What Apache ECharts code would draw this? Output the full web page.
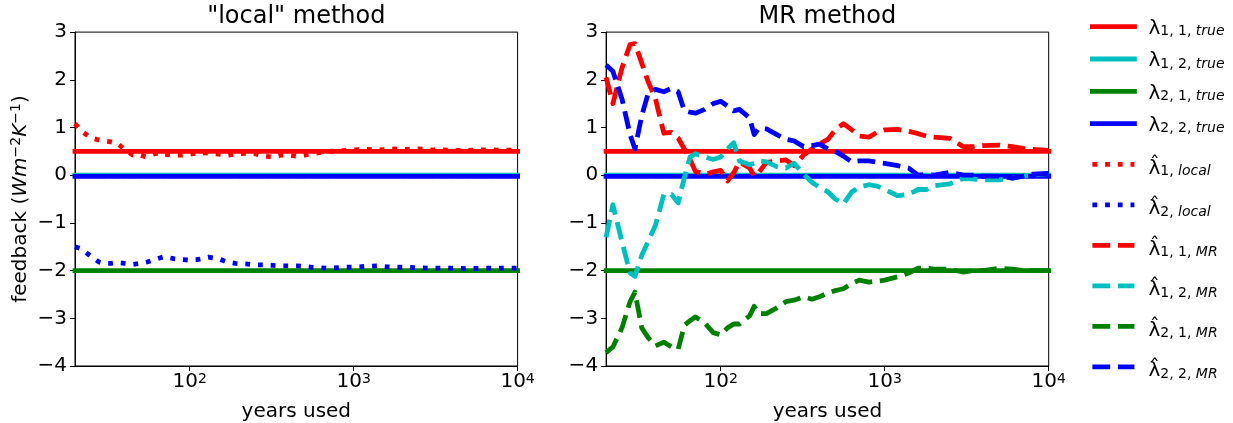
<!DOCTYPE html>
<html>
<head>
<meta charset="utf-8">
<script src="https://cdn.jsdelivr.net/npm/echarts@6/dist/echarts.min.js"></script>
<style>
  html, body { margin: 0; padding: 0; background: #fff; }
  #chart { width: 1233px; height: 423px; }
</style>
</head>
<body>
<div id="chart"></div>
<script>
// Sample sizes (years of data used), shared by every estimate curve
const years = [20, 22, 25, 28, 30, 33, 36, 40, 45, 50, 55, 60, 65, 70, 80, 90, 100, 110, 120, 130,
  150, 160, 170, 190, 220, 250, 280, 320, 360, 400, 450, 500, 560, 630, 700, 800, 900, 1000,
  1200, 1400, 1600, 1800, 2000, 2500, 3000, 3500, 4000, 5000, 6000, 7000, 8000, 10000];

// True feedback values (horizontal reference lines)
const trueNames = ['l11true', 'l12true', 'l21true', 'l22true'];
const trueLevels = [0.5, 0, -2, -0.025];

// "local" method estimates
const local1 = [1.08, 0.92, 0.78, 0.74, 0.72, 0.70, 0.67, 0.55, 0.42, 0.42, 0.38, 0.44, 0.47, 0.44, 0.42, 0.42, 0.44, 0.46, 0.47, 0.46,
  0.44, 0.43, 0.42, 0.44, 0.46, 0.45, 0.40, 0.38, 0.42, 0.42, 0.40, 0.42, 0.45, 0.48, 0.50, 0.51, 0.52, 0.53,
  0.54, 0.53, 0.54, 0.55, 0.54, 0.55, 0.53, 0.53, 0.52, 0.52, 0.53, 0.53, 0.52, 0.53];
const local2 = [-1.50, -1.55, -1.70, -1.82, -1.85, -1.85, -1.83, -1.85, -1.87, -1.85, -1.82, -1.78, -1.74, -1.71, -1.75, -1.77, -1.78, -1.77, -1.75, -1.72,
  -1.75, -1.79, -1.82, -1.85, -1.86, -1.88, -1.88, -1.89, -1.90, -1.90, -1.90, -1.91, -1.93, -1.94, -1.95, -1.94, -1.93, -1.93,
  -1.91, -1.90, -1.92, -1.93, -1.93, -1.94, -1.95, -1.95, -1.95, -1.96, -1.95, -1.95, -1.95, -1.95];

// MR method estimates
const mr11 = [2.05, 1.50, 2.25, 2.74, 2.76, 2.35, 1.97, 1.60, 0.88, 0.90, 0.78, 0.55, 0.33, 0.08, 0.02, 0.07, 0.10, -0.12, 0.05, 0.28,
  0.15, -0.02, 0.05, 0.27, 0.30, 0.32, 0.20, 0.42, 0.55, 0.65, 0.75, 0.95, 1.08, 0.95, 0.82, 0.80, 0.90, 0.95,
  0.96, 0.92, 0.87, 0.82, 0.80, 0.77, 0.60, 0.60, 0.62, 0.63, 0.60, 0.56, 0.54, 0.52];
const mr12 = [-1.30, -0.62, -1.40, -2.05, -2.12, -1.68, -1.40, -1.05, -0.40, -0.40, -0.58, -0.05, 0.38, 0.45, 0.38, 0.33, 0.38, 0.55, 0.68, 0.30,
  0.22, 0.25, 0.30, 0.28, 0.18, 0.15, 0.25, 0.02, -0.15, -0.25, -0.35, -0.50, -0.60, -0.35, -0.25, -0.20, -0.23, -0.30,
  -0.43, -0.40, -0.30, -0.30, -0.22, -0.18, -0.07, -0.08, -0.10, -0.10, -0.06, -0.02, 0.00, 0.04];
const mr21 = [-3.72, -3.60, -3.20, -2.65, -2.45, -3.20, -3.40, -3.58, -3.50, -3.60, -3.65, -3.15, -3.05, -2.97, -3.10, -3.30, -3.35, -3.20, -3.12, -3.12,
  -2.95, -2.75, -2.90, -2.90, -2.78, -2.65, -2.62, -2.55, -2.60, -2.55, -2.47, -2.42, -2.38, -2.27, -2.20, -2.24, -2.22, -2.20,
  -2.13, -2.05, -1.95, -1.95, -1.97, -1.97, -2.03, -2.00, -2.00, -1.95, -1.97, -2.00, -2.00, -2.00];
const mr22 = [2.31, 2.18, 1.60, 0.85, 0.55, 1.25, 1.70, 1.80, 1.75, 1.82, 1.75, 1.35, 1.32, 1.30, 1.38, 1.50, 1.55, 1.45, 1.35, 1.38,
  1.20, 0.85, 0.98, 0.97, 0.85, 0.75, 0.72, 0.60, 0.62, 0.65, 0.55, 0.50, 0.40, 0.28, 0.30, 0.30, 0.27, 0.25,
  0.20, 0.15, 0.00, 0.02, 0.00, 0.06, 0.00, 0.00, -0.02, -0.02, -0.06, -0.02, 0.02, 0.04];

// Axis ticks
const majorTicks = [100, 1000, 10000];
const minorTicks = [30, 40, 50, 60, 70, 80, 90, 200, 300, 400, 500, 600, 700, 800, 900,
  2000, 3000, 4000, 5000, 6000, 7000, 8000, 9000];
const yTicks = [-4, -3, -2, -1, 0, 1, 2, 3];

const FONT = '"DejaVu Sans", sans-serif';
const RED = '#ff0000', CYAN = '#00bfbf', GREEN = '#008000', BLUE = '#0000ff';
const LW = 4.8;
const DASH = [17.8, 7.7];
const DOT = [4.8, 7.9];
const X_MIN = years[0], X_MAX = years[years.length - 1];

const legendText = {
  l11true: '{sp| }{l|λ}{s|1, 1, }{i|true}',
  l12true: '{sp| }{l|λ}{s|1, 2, }{i|true}',
  l21true: '{sp| }{l|λ}{s|2, 1, }{i|true}',
  l22true: '{sp| }{l|λ}{s|2, 2, }{i|true}',
  l1local: '{sp| }{l|λ\u0302}{s|1, }{i|local}',
  l2local: '{sp| }{l|λ\u0302}{s|2, }{i|local}',
  l11mr: '{sp| }{l|λ\u0302}{s|1, 1, }{i|MR}',
  l12mr: '{sp| }{l|λ\u0302}{s|1, 2, }{i|MR}',
  l21mr: '{sp| }{l|λ\u0302}{s|2, 1, }{i|MR}',
  l22mr: '{sp| }{l|λ\u0302}{s|2, 2, }{i|MR}'
};
const trueColors = [RED, CYAN, GREEN, BLUE];

function pairs(vals) { return years.map((y, i) => [y, vals[i]]); }

function lineSeries(name, data, color, dash, gi) {
  return {
    type: 'line', name, data,
    xAxisIndex: gi * 2, yAxisIndex: gi,
    symbol: 'none', showSymbol: false, smooth: false, clip: true,
    silent: true, animation: false,
    lineStyle: { color, width: LW, type: dash || 'solid', cap: dash ? 'butt' : 'square', join: 'round' },
    itemStyle: { color },
    emphasis: { disabled: true }
  };
}

const series = [];
[0, 1].forEach(gi => {
  trueNames.forEach((n, k) => {
    series.push(lineSeries(n, [[X_MIN, trueLevels[k]], [X_MAX, trueLevels[k]]], trueColors[k], null, gi));
  });
});
series.push(lineSeries('l1local', pairs(local1), RED, DOT, 0));
series.push(lineSeries('l2local', pairs(local2), BLUE, DOT, 0));
series.push(lineSeries('l11mr', pairs(mr11), RED, DASH, 1));
series.push(lineSeries('l12mr', pairs(mr12), CYAN, DASH, 1));
series.push(lineSeries('l21mr', pairs(mr21), GREEN, DASH, 1));
series.push(lineSeries('l22mr', pairs(mr22), BLUE, DASH, 1));

const powFmt = v => '{b|10}{p|' + Math.round(Math.log10(v)) + '}';
const minusFmt = v => (v < 0 ? '\u2212' + Math.abs(v) : String(v));

function majorX(gi) {
  return {
    type: 'log', logBase: 10, gridIndex: gi, min: X_MIN, max: X_MAX, position: 'bottom',
    axisLine: { show: true, onZero: false, lineStyle: { color: '#000', width: 1 } },
    axisTick: { show: true, customValues: majorTicks, length: 5, lineStyle: { color: '#000', width: 1 } },
    axisLabel: {
      show: true, customValues: majorTicks, formatter: powFmt, margin: 6, color: '#000',
      rich: {
        b: { fontSize: 20, fontFamily: FONT, color: '#000', lineHeight: 20, verticalAlign: 'bottom' },
        p: { fontSize: 14, fontFamily: FONT, color: '#000', lineHeight: 6, verticalAlign: 'top' }
      }
    },
    splitLine: { show: false }, minorTick: { show: false }, minorSplitLine: { show: false },
    name: 'years used', nameLocation: 'middle', nameGap: 36,
    nameTextStyle: { fontSize: 20, fontFamily: FONT, color: '#000' }
  };
}
function minorX(gi) {
  return {
    type: 'log', logBase: 10, gridIndex: gi, min: X_MIN, max: X_MAX, position: 'bottom',
    axisLine: { show: false },
    axisTick: { show: true, customValues: minorTicks, length: 3, lineStyle: { color: '#000', width: 1 } },
    axisLabel: { show: false },
    splitLine: { show: false }
  };
}
function yAx(gi, withName) {
  const ax = {
    type: 'value', gridIndex: gi, min: yTicks[0], max: yTicks[yTicks.length - 1], interval: 1,
    axisLine: { show: true, onZero: false, lineStyle: { color: '#000', width: 1 } },
    axisTick: { show: true, length: 5, lineStyle: { color: '#000', width: 1 } },
    axisLabel: { show: true, formatter: minusFmt, fontSize: 20, fontFamily: FONT, color: '#000', margin: 8 },
    splitLine: { show: false }
  };
  if (withName) {
    Object.assign(ax, {
      name: '{n|feedback (}{i|Wm}{p|\u22122}{i|K}{p|\u22121}{n|)}',
      nameLocation: 'middle', nameGap: 44,
      nameTextStyle: {
        rich: {
          n: { fontSize: 20, fontFamily: FONT, color: '#000', lineHeight: 22, verticalAlign: 'bottom' },
          i: { fontSize: 20, fontFamily: FONT, fontStyle: 'italic', color: '#000', lineHeight: 22, verticalAlign: 'bottom' },
          p: { fontSize: 14, fontFamily: FONT, color: '#000', lineHeight: 8, verticalAlign: 'top' }
        }
      }
    });
  }
  return ax;
}

// Legend entries: icon line styles per entry
const legendLine = {
  l11true: { type: 'solid', cap: 'square' }, l12true: { type: 'solid', cap: 'square' },
  l21true: { type: 'solid', cap: 'square' }, l22true: { type: 'solid', cap: 'square' },
  l1local: { type: DOT, cap: 'butt' }, l2local: { type: DOT, cap: 'butt' },
  l11mr: { type: DASH, cap: 'butt' }, l12mr: { type: DASH, cap: 'butt' },
  l21mr: { type: DASH, cap: 'butt' }, l22mr: { type: DASH, cap: 'butt' }
};

function legendRich(boxH) {
  return {
    sp: { width: 9, lineHeight: boxH, fontSize: 10 },
    l: { fontSize: 20, fontFamily: FONT, color: '#000', lineHeight: 24, verticalAlign: 'bottom' },
    s: { fontSize: 14, fontFamily: FONT, color: '#000', lineHeight: 12.4, verticalAlign: 'bottom' },
    i: { fontSize: 14, fontFamily: FONT, fontStyle: 'italic', color: '#000', lineHeight: 12.4, verticalAlign: 'bottom' }
  };
}
// itemHeight is chosen so the (hidden) legend symbol sets each row's box: box = 0.8 * itemHeight
function legend(names, firstCenter, pitch, boxH, itemH) {
  const box = 0.8 * itemH;
  return {
    show: true, orient: 'vertical', left: 1090, top: firstCenter - box / 2, padding: 0,
    itemWidth: 42, itemHeight: itemH, itemGap: pitch - box,
    data: names.map(n => ({ name: n, lineStyle: Object.assign({ width: LW }, legendLine[n]) })),
    selectedMode: false,
    formatter: n => legendText[n],
    textStyle: { rich: legendRich(boxH) },
    itemStyle: { opacity: 0 },
    lineStyle: { width: LW }
  };
}

const gridBase = { top: 32.1, width: 442.6, height: 333.9, show: true, borderColor: '#000', borderWidth: 1,
  containLabel: false, outerBoundsMode: 'none' };

const option = {
  animation: false,
  backgroundColor: '#fff',
  grid: [Object.assign({ left: 75 }, gridBase), Object.assign({ left: 606.1 }, gridBase)],
  xAxis: [majorX(0), minorX(0), majorX(1), minorX(1)],
  yAxis: [yAx(0, true), yAx(1, false)],
  legend: [
    legend(trueNames, 26.7, 32.3, 24, 32),
    legend(['l1local', 'l2local', 'l11mr', 'l12mr', 'l21mr', 'l22mr'], 164.3, 40.5, 28.6, 36)
  ],
  graphic: [
    { type: 'text', x: 296.3, y: 5, style: { text: '"local" method', fontSize: 24, fontFamily: FONT, fill: '#000', align: 'center', verticalAlign: 'top' } },
    { type: 'text', x: 827.4, y: 5, style: { text: 'MR method', fontSize: 24, fontFamily: FONT, fill: '#000', align: 'center', verticalAlign: 'top' } }
  ],
  series
};

const chart = echarts.init(document.getElementById('chart'), null, { renderer: 'canvas' });
chart.setOption(option);
</script>
</body>
</html>
